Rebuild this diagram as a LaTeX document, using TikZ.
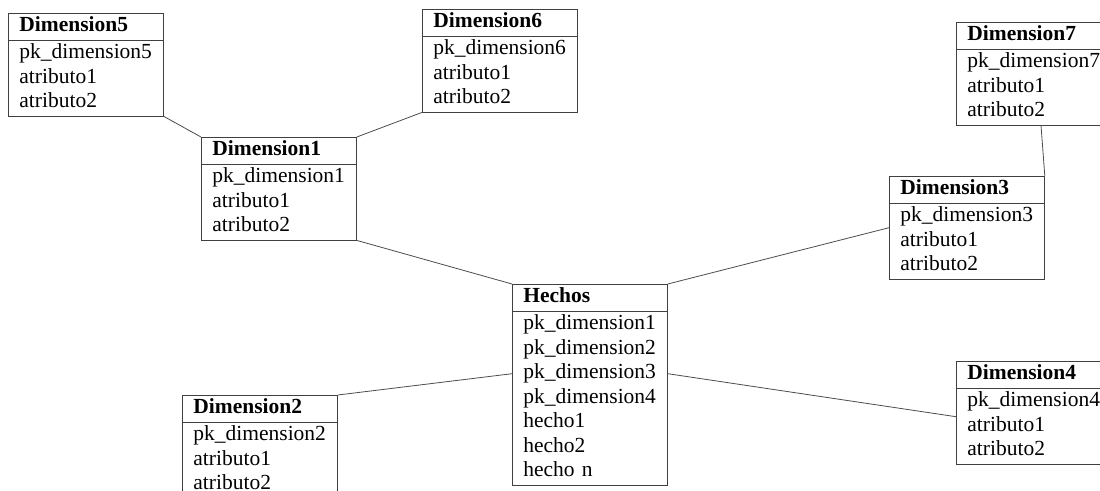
\documentclass[tikz,border=0pt]{standalone}
\usepackage{fontspec}
\setmainfont{Liberation Serif}
\usetikzlibrary{shapes.multipart}

\tikzset{
  tabla/.style={rectangle split, rectangle split parts=2, draw=black!75, line width=0.8pt,
    text width=133pt, inner xsep=11pt, inner ysep=0.75pt, align=left, anchor=north west,
    font=\fontsize{21.5}{24.5}\selectfont},
  enlace/.style={draw=black!70, line width=0.8pt}
}

\begin{document}
\begin{tikzpicture}[x=1pt,y=-1pt]
				% page frame
				\useasboundingbox (0,0) rectangle (1100,490);
				\clip (0,0) rectangle (1100,490);

				% dimensiones
				\node[tabla] (dim5) at (8,13) {\textbf{Dimension5}\strut
					\nodepart{two} pk\_dimension5\strut\\ atributo1\strut\\ atributo2\strut};
				\node[tabla] (dim6) at (422,9) {\textbf{Dimension6}\strut
					\nodepart{two} pk\_dimension6\strut\\ atributo1\strut\\ atributo2\strut};
				\node[tabla] (dim1) at (201,137) {\textbf{Dimension1}\strut
					\nodepart{two} pk\_dimension1\strut\\ atributo1\strut\\ atributo2\strut};
				\node[tabla] (dim7) at (956,22) {\textbf{Dimension7}\strut
					\nodepart{two} pk\_dimension7\strut\\ atributo1\strut\\ atributo2\strut};
				\node[tabla] (dim3) at (889,176) {\textbf{Dimension3}\strut
					\nodepart{two} pk\_dimension3\strut\\ atributo1\strut\\ atributo2\strut};
				\node[tabla] (dim4) at (956,361) {\textbf{Dimension4}\strut
					\nodepart{two} pk\_dimension4\strut\\ atributo1\strut\\ atributo2\strut};
				\node[tabla] (dim2) at (182,395) {\textbf{Dimension2}\strut
					\nodepart{two} pk\_dimension2\strut\\ atributo1\strut\\ atributo2\strut};

				% tabla de hechos
				\node[tabla] (hechos) at (512,284) {\textbf{Hechos}\strut
					\nodepart{two} pk\_dimension1\strut\\ pk\_dimension2\strut\\ pk\_dimension3\strut\\
					pk\_dimension4\strut\\ hecho1\strut\\ hecho2\strut\\ hecho n\strut};

				% enlaces
				\draw[enlace] (dim5.south east) -- (dim1.north west);
				\draw[enlace] (dim6.south west) -- (dim1.north east);
				\draw[enlace] ([xshift=85pt]dim7.south west) -- (dim3.north east);
				\draw[enlace] (dim1.south east) -- (hechos.north west);
				\draw[enlace] (dim3.west) -- (hechos.north east);
				\draw[enlace] ([yshift=11pt]hechos.west) -- (dim2.north east);
				\draw[enlace] ([yshift=11pt]hechos.east) -- ([yshift=-4pt]dim4.west);
\end{tikzpicture}
\end{document}
